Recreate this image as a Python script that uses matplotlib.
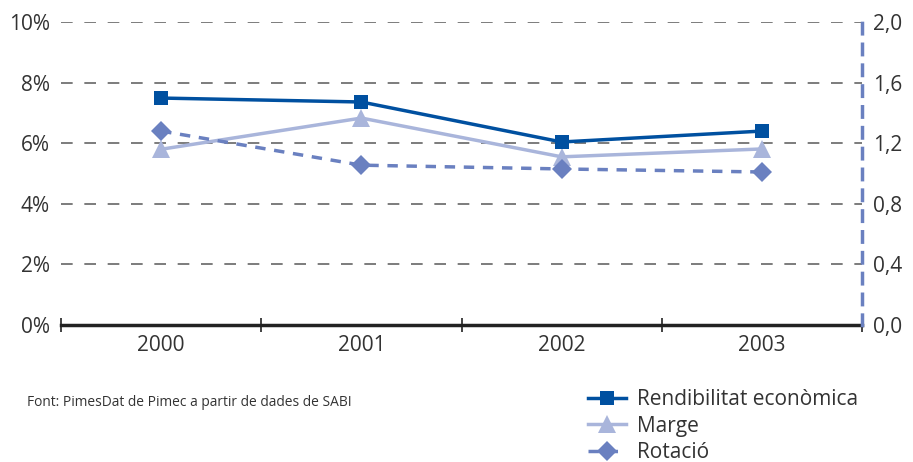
import matplotlib
matplotlib.use("Agg")
import matplotlib.pyplot as plt
from matplotlib.ticker import FuncFormatter

plt.rcParams['font.family'] = ['Open Sans', 'DejaVu Sans']

years = ['2000', '2001', '2002', '2003']
rendibilitat = [7.49, 7.36, 6.04, 6.40]   # %
marge = [5.80, 6.83, 5.55, 5.81]          # %
rotacio = [1.28, 1.055, 1.03, 1.01]       # ratio (right axis)
left_ticks = [0, 2, 4, 6, 8, 10]
right_ticks = [0.0, 0.4, 0.8, 1.2, 1.6, 2.0]

c_dark = '#0050A0'
c_light = '#A9B5DB'
c_mid = '#6A80C0'
c_text = '#333333'

fig = plt.figure(figsize=(9.13, 4.62), dpi=100)
ax = fig.add_axes([61/913, 1-325/462, (862-61)/913, (325-22)/462])
ax2 = ax.twinx()

x = list(range(len(years)))

ax.set_xlim(-0.5, 3.5)
ax.set_ylim(0, 10)
ax2.set_ylim(0, 2.0)

ax.set_yticks(left_ticks)
ax.yaxis.set_major_formatter(FuncFormatter(lambda v, p: f"{int(v)}%"))
ax.grid(axis='y', color='#666666', linestyle=(0, (7, 7)), linewidth=1.2)
ax.set_axisbelow(True)
ax.tick_params(axis='y', length=0, pad=8, labelsize=15, labelcolor=c_text)

ax2.set_yticks(right_ticks)
ax2.yaxis.set_major_formatter(FuncFormatter(lambda v, p: f"{v:.1f}".replace('.', ',')))
ax2.tick_params(axis='y', length=0, pad=8, labelsize=15, labelcolor=c_text)

ax.set_xticks(x)
ax.set_xticklabels(years)
ax.tick_params(axis='x', length=0, pad=7, labelsize=15, labelcolor=c_text)
ax.set_xticks([-0.5, 0.5, 1.5, 2.5, 3.5], minor=True)
ax.tick_params(axis='x', which='minor', direction='inout', length=10, width=1.2, color='#222222')

for a in (ax, ax2):
    for sp in a.spines.values():
        sp.set_visible(False)
ax.spines['bottom'].set_visible(True)
ax.spines['bottom'].set_linewidth(2.5)
ax.spines['bottom'].set_color('#222222')
ax2.spines['right'].set_visible(True)
ax2.spines['right'].set_color(c_mid)
ax2.spines['right'].set_linewidth(2.5)
ax2.spines['right'].set_linestyle((0, (3, 3)))

l1, = ax.plot(x, rendibilitat, color=c_dark, linewidth=2.5, marker='s', markersize=10,
              markeredgewidth=0, label='Rendibilitat econòmica', zorder=5)
l2, = ax.plot(x, marge, color=c_light, linewidth=2.5, marker='^', markersize=13,
              markeredgewidth=0, label='Marge', zorder=4)
l3, = ax2.plot(x, rotacio, color=c_mid, linewidth=2.5, linestyle=(0, (3, 2.5)), marker='D',
               markersize=10, markeredgewidth=0, label='Rotació', zorder=3)

fig.legend(handles=[l1, l2, l3], loc='upper left', bbox_to_anchor=(578/913, 1-379/462),
           frameon=False, fontsize=15, handlelength=1.8, handletextpad=0.55,
           labelspacing=0.25, labelcolor=c_text, borderpad=0)

fig.text(27/913, 1-403/462, 'Font: PimesDat de Pimec a partir de dades de SABI',
         fontsize=9.9, color=c_text, va='center', ha='left')

fig.savefig('out.png', dpi=100)
